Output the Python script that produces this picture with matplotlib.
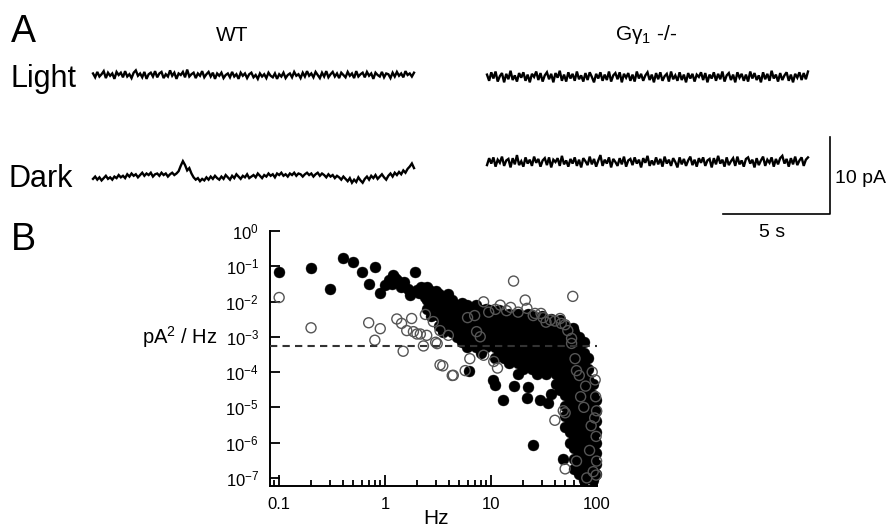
import numpy as np
import matplotlib
matplotlib.use("Agg")
import matplotlib.pyplot as plt
from matplotlib.ticker import LogLocator, NullFormatter, FixedLocator

plt.rcParams['font.family'] = ['Liberation Sans', 'DejaVu Sans']
plt.rcParams['mathtext.fontset'] = 'custom'
plt.rcParams['mathtext.rm'] = 'Liberation Sans'
plt.rcParams['mathtext.it'] = 'Liberation Sans:italic'
plt.rcParams['mathtext.bf'] = 'Liberation Sans:bold'

# ---- panel A: current traces (pA), one sample every 0.1 s ----
kDT = 0.1
wt_light = [
    0.2, -0.3, 0.4, -0.2, 0.1, 0.5, -0.4, 0.3, -0.1, 0.2, -0.5, 0.4, 0.0, 0.3, -0.3, 0.5, -0.2, 0.1, -0.4, 0.3,
    0.6, -0.1, 0.2, -0.3, 0.4, -0.5, 0.1, 0.3, -0.2, 0.5, -0.3, 0.2, 0.4, -0.4, 0.1, -0.2, 0.6, -0.1, 0.3, -0.5,
    0.2, 0.0, 0.4, -0.3, 0.7, -0.2, 0.1, 0.3, -0.4, 0.2, -0.1, 0.5, -0.3, 0.1, 0.4, -0.2, 0.3, -0.5, 0.2, -0.1,
    0.3, -0.4, 0.0, 0.2, -0.3, 0.4, -0.2, 0.1, -0.5, 0.3, -0.1, 0.2, -0.4, 0.1, 0.3, -0.3, 0.0, -0.5, 0.2, -0.2,
    0.1, -0.4, 0.3, -0.1, -0.3, 0.2, -0.5, 0.1, -0.2, 0.3, -0.4, 0.0, 0.2, -0.3, 0.4, -0.1, 0.1, -0.4, 0.3, -0.2,
    0.5, -0.1, 0.2, -0.3, 0.4, 0.0, -0.4, 0.3, -0.2, 0.5, -0.3, 0.1, 0.4, -0.2, 0.2, -0.4, 0.3, 0.0, -0.3, 0.4,
    -0.1, 0.2, -0.4, 0.5, -0.2, 0.1, 0.3, -0.3, 0.4, -0.1, 0.2, -0.5, 0.3, 0.0, -0.2, 0.4, -0.3, 0.2, 0.1, -0.4,
    0.3, -0.2, 0.4, -0.1, 0.2, -0.3, 0.5, 0.0, 0.2, -0.2, 0.3]
wt_dark = [
    -0.5, -0.2, -0.6, -0.3, -0.7, -0.4, -0.1, -0.5, -0.3, -0.6, -0.2, -0.4, 0.0, -0.3, -0.1, -0.4, 0.1, -0.2, 0.2, -0.1,
    0.1, -0.3, 0.0, 0.3, -0.1, 0.2, 0.0, 0.3, -0.2, 0.1, 0.2, -0.1, 0.3, 0.0, 0.2, -0.2, 0.1, 0.3, 0.0, 0.2,
    0.5, 1.2, 1.8, 1.3, 0.6, 0.9, 0.2, -0.3, -0.6, -0.4, -0.8, -0.5, -0.7, -0.3, -0.6, -0.2, -0.5, -0.1, -0.4, -0.6,
    -0.2, -0.5, 0.0, -0.3, -0.6, -0.1, -0.4, 0.1, -0.2, -0.5, -0.1, -0.3, 0.1, -0.4, -0.2, 0.0, -0.3, 0.2, -0.1, -0.4,
    0.0, -0.2, 0.2, -0.1, 0.1, -0.3, 0.2, 0.0, 0.3, -0.1, 0.1, -0.2, 0.2, 0.0, 0.3, -0.1, 0.2, 0.1, -0.2, 0.1,
    0.3, 0.0, 0.2, -0.2, 0.1, 0.3, -0.1, 0.2, 0.0, -0.3, 0.1, -0.2, 0.0, -0.4, -0.1, -0.3, -0.6, -0.2, -0.5, -0.8,
    -0.4, -1.0, -0.6, -0.9, -0.3, -0.7, -1.0, -0.5, -0.2, -0.6, -0.1, -0.4, 0.0, -0.5, -0.2, 0.1, -0.3, -0.6, -0.1, 0.2,
    -0.2, 0.3, 0.0, 0.4, 0.1, 0.6, 0.3, 0.8, 1.1, 1.5, 0.9]
ko_light = [
    0.3, -0.5, 0.6, -0.2, 0.7, -0.6, 0.1, 0.5, -0.7, 0.4, -0.3, 0.8, -0.4, 0.2, -0.6, 0.5, -0.1, 0.6, -0.5, 0.3,
    -0.7, 0.4, 0.0, 0.7, -0.4, 0.5, -0.6, 0.2, 0.6, -0.3, 0.4, -0.7, 0.5, -0.1, 0.8, -0.5, 0.3, -0.6, 0.6, -0.2,
    0.4, -0.5, 0.7, -0.3, 0.2, -0.6, 0.5, -0.4, 0.6, 0.0, -0.7, 0.4, -0.2, 0.6, -0.5, 0.3, -0.4, 0.7, -0.6, 0.2,
    0.5, -0.3, 0.6, -0.7, 0.4, -0.1, 0.5, -0.5, 0.3, -0.6, 0.7, -0.2, 0.4, -0.5, 0.2, 0.6, -0.4, 0.3, -0.7, 0.5,
    -0.3, 0.6, -0.5, 0.1, 0.4, -0.6, 0.7, -0.3, 0.2, -0.5, 0.6, -0.4, 0.3, -0.7, 0.5, -0.2, 0.4, -0.6, 0.3, 0.0,
    0.6, -0.4, 0.5, -0.7, 0.3, -0.2, 0.6, -0.5, 0.4, -0.3, 0.7, -0.6, 0.2, 0.5, -0.4, 0.3, -0.7, 0.6, -0.1, 0.4,
    -0.5, 0.3, -0.6, 0.7, -0.2, 0.5, -0.4, 0.2, -0.7, 0.6, -0.3, 0.4, -0.5, 0.8, -0.2, 0.3, -0.6, 0.5, -0.4, 0.2,
    0.6, -0.5, 0.3, -0.7, 0.4, -0.1, 0.6, -0.4, 0.5, -0.3, 0.7]
ko_dark = [
    -0.4, 0.5, -0.2, 0.6, -0.6, 0.3, -0.1, 0.7, -0.5, 0.2, 0.4, -0.7, 0.5, -0.3, 0.9, -0.4, 0.1, -0.6, 0.6, -0.2,
    0.3, -0.5, 0.7, -0.1, 0.4, -0.6, 0.2, 0.5, -0.4, 0.6, -0.7, 0.3, 0.0, 0.5, -0.5, 0.8, -0.3, 0.2, -0.6, 0.4,
    -0.2, 0.6, -0.5, 0.3, -0.7, 0.5, 0.1, -0.4, 0.7, -0.3, 0.4, -0.6, 0.2, 0.9, -0.5, 0.3, -0.2, 0.6, -0.7, 0.4,
    0.0, -0.5, 0.5, -0.3, 0.7, -0.6, 0.2, 0.4, -0.4, 0.6, -0.2, 0.3, -0.7, 0.5, -0.1, 0.8, -0.5, 0.2, -0.4, 0.6,
    -0.3, 0.4, -0.6, 0.7, -0.2, 0.3, -0.5, 0.5, 0.0, -0.7, 0.6, -0.3, 0.4, -0.5, 0.2, 0.7, -0.4, 0.3, -0.6, 0.5,
    -0.1, 0.6, -0.5, 0.2, 0.4, -0.7, 0.5, -0.3, 0.8, -0.2, 0.3, -0.6, 0.6, -0.4, 0.1, 0.5, -0.5, 0.7, -0.3, 0.2,
    -0.6, 0.4, 0.6, -0.2, 0.3, -0.7, 0.5, -0.4, 0.2, 0.7, -0.5, 0.3, -0.1, 0.6, -0.6, 0.4, -0.3, 0.5, 0.8, -0.2,
    0.4, -0.6, 0.5, -0.3, 0.7, -0.4, 0.2, 0.6, -0.5, 0.3, 0.6]

# ---- panel B: power spectra (Hz, pA^2/Hz) ----
# WT dark, filled circles
wt_points = [
    (0.1, 7e-2), (0.2, 9e-2), (0.3, 2.2e-2), (0.4, 1.7e-1), (0.5, 1.3e-1), (0.6, 7e-2), (0.7, 3.1e-2),
    (0.8, 9.5e-2), (0.9, 1.7e-2), (1.0, 2.9e-2), (1.1, 4e-2), (1.15, 3.2e-2), (1.2, 5.6e-2), (1.25, 4.6e-2),
    (1.3, 4e-2), (1.4, 2.6e-2), (1.45, 3e-2), (1.5, 3.5e-2), (1.65, 2.2e-2), (1.7, 1.5e-2), (1.75, 1.9e-2),
    (1.9, 7e-2), (2.0, 2.1e-2), (2.1, 1.8e-2), (2.2, 2.6e-2), (2.3, 1.7e-2), (2.4, 1.35e-2), (2.5, 1.1e-2),
    (2.6, 2.1e-2), (2.7, 1.6e-2), (2.8, 1.35e-2), (2.9, 1.1e-2), (3.0, 7e-3),
    (2.5, 2.5e-2), (2.5, 6.3e-3), (2.7, 8e-3), (2.7, 4e-3), (3.0, 2e-2),
    (3.2, 1.6e-2), (3.2, 7.9e-3), (3.2, 4e-3), (3.2, 2e-3),
    (3.5, 1.1e-2), (3.5, 5.6e-3), (3.5, 2.8e-3), (3.5, 1.4e-3),
    (3.9, 1.6e-2), (3.9, 7.9e-3), (3.9, 4e-3), (3.9, 2e-3),
    (4.3, 1.1e-2), (4.3, 5.6e-3), (4.3, 2.8e-3), (4.3, 1.4e-3),
    (4.8, 7.9e-3), (4.8, 4e-3), (4.8, 2e-3), (4.8, 1e-3),
    (5.3, 8.9e-3), (5.3, 5.6e-3), (5.3, 2.8e-3), (5.3, 1.4e-3), (5.3, 7e-4),
    (5.9, 7.9e-3), (5.9, 4e-3), (5.9, 2e-3), (5.9, 1e-3), (5.9, 5e-4),
    (6.5, 5.6e-3), (6.5, 2.8e-3), (6.5, 1.4e-3), (6.5, 7e-4),
    (7.2, 7.9e-3), (7.2, 4e-3), (7.2, 2e-3), (7.2, 1e-3), (7.2, 5e-4),
    (8.0, 5.6e-3), (8.0, 2.8e-3), (8.0, 1.4e-3), (8.0, 7e-4), (8.0, 3.5e-4),
    (8.9, 6.3e-3), (8.9, 4e-3), (8.9, 2e-3), (8.9, 1e-3), (8.9, 5e-4),
    (9.8, 5.6e-3), (9.8, 2.8e-3), (9.8, 1.4e-3), (9.8, 7e-4),
    (10.9, 4e-3), (10.9, 2e-3), (10.9, 1e-3), (10.9, 5e-4), (10.9, 2.5e-4),
    (12.0, 5.6e-3), (12.0, 2.8e-3), (12.0, 1.4e-3), (12.0, 7e-4), (12.0, 3.5e-4),
    (13.3, 4e-3), (13.3, 2e-3), (13.3, 1e-3), (13.3, 5e-4), (13.3, 2.5e-4),
    (14.7, 4.5e-3), (14.7, 2.8e-3), (14.7, 1.4e-3), (14.7, 7e-4), (14.7, 3.5e-4), (14.7, 1.8e-4),
    (16.3, 4e-3), (16.3, 2e-3), (16.3, 1e-3), (16.3, 5e-4), (16.3, 2.5e-4),
    (18.0, 4.5e-3), (18.0, 2.8e-3), (18.0, 1.4e-3), (18.0, 7e-4), (18.0, 3.5e-4), (18.0, 1.8e-4), (18.0, 8.9e-5),
    (20.0, 4e-3), (20.0, 2e-3), (20.0, 1e-3), (20.0, 5e-4), (20.0, 2.5e-4), (20.0, 1.26e-4),
    (22.1, 4.5e-3), (22.1, 2.8e-3), (22.1, 1.4e-3), (22.1, 7e-4), (22.1, 3.5e-4), (22.1, 1.8e-4),
    (24.5, 4e-3), (24.5, 2e-3), (24.5, 1e-3), (24.5, 5e-4), (24.5, 2.5e-4), (24.5, 1.26e-4),
    (27.1, 2.8e-3), (27.1, 1.4e-3), (27.1, 7e-4), (27.1, 3.5e-4), (27.1, 1.8e-4), (27.1, 8.9e-5),
    (30.0, 4e-3), (30.0, 2e-3), (30.0, 1e-3), (30.0, 5e-4), (30.0, 2.5e-4), (30.0, 1.26e-4),
    (33.2, 2.8e-3), (33.2, 1.4e-3), (33.2, 7e-4), (33.2, 3.5e-4), (33.2, 1.8e-4), (33.2, 8.9e-5),
    (36.8, 3.2e-3), (36.8, 2e-3), (36.8, 1e-3), (36.8, 5e-4), (36.8, 2.5e-4), (36.8, 1.26e-4),
    (40.7, 2.8e-3), (40.7, 1.4e-3), (40.7, 7e-4), (40.7, 3.5e-4), (40.7, 1.8e-4), (40.7, 8.9e-5), (40.7, 4.5e-5),
    (45.0, 3e-3), (45.0, 2e-3), (45.0, 1e-3), (45.0, 5e-4), (45.0, 2.5e-4), (45.0, 1.26e-4), (45.0, 6.3e-5),
    (45.0, 3.2e-5),
    (49.8, 2e-3), (49.8, 1.4e-3), (49.8, 7e-4), (49.8, 3.5e-4), (49.8, 1.8e-4), (49.8, 8.9e-5), (49.8, 4.5e-5),
    (49.8, 2.2e-5), (49.8, 1.1e-5), (49.8, 5.6e-6), (49.8, 2.8e-6),
    (55.1, 1.6e-3), (55.1, 1e-3), (55.1, 5e-4), (55.1, 2.5e-4), (55.1, 1.26e-4), (55.1, 6.3e-5), (55.1, 3.2e-5),
    (55.1, 1.6e-5), (55.1, 7.9e-6), (55.1, 4e-6), (55.1, 2e-6), (55.1, 1e-6),
    (61.0, 1.4e-3), (61.0, 7e-4), (61.0, 3.5e-4), (61.0, 1.8e-4), (61.0, 8.9e-5), (61.0, 4.5e-5), (61.0, 2.2e-5),
    (61.0, 1.1e-5), (61.0, 5.6e-6), (61.0, 2.8e-6), (61.0, 1.4e-6), (61.0, 7e-7), (61.0, 3.5e-7), (61.0, 1.8e-7),
    (67.5, 1e-3), (67.5, 5e-4), (67.5, 2.5e-4), (67.5, 1.26e-4), (67.5, 6.3e-5), (67.5, 3.2e-5), (67.5, 1.6e-5),
    (67.5, 7.9e-6), (67.5, 4e-6), (67.5, 2e-6), (67.5, 1e-6), (67.5, 5e-7), (67.5, 2.5e-7), (67.5, 1.26e-7),
    (74.7, 7e-4), (74.7, 3.5e-4), (74.7, 1.8e-4), (74.7, 8.9e-5), (74.7, 4.5e-5), (74.7, 2.2e-5), (74.7, 1.1e-5),
    (74.7, 5.6e-6), (74.7, 2.8e-6), (74.7, 1.4e-6), (74.7, 7e-7), (74.7, 3.5e-7), (74.7, 1.8e-7), (74.7, 8.9e-8),
    (82.6, 2.5e-4), (82.6, 1.26e-4), (82.6, 6.3e-5), (82.6, 3.2e-5), (82.6, 1.6e-5), (82.6, 7.9e-6), (82.6, 4e-6),
    (82.6, 2e-6), (82.6, 1e-6), (82.6, 5e-7), (82.6, 2.5e-7), (82.6, 1.26e-7),
    (91.4, 4.5e-5), (91.4, 2.2e-5), (91.4, 1.1e-5), (91.4, 5.6e-6), (91.4, 2.8e-6), (91.4, 1.4e-6), (91.4, 7e-7),
    (91.4, 3.5e-7), (91.4, 1.8e-7), (91.4, 8.9e-8),
    (97.0, 1.6e-5), (97.0, 7.9e-6), (97.0, 4e-6), (97.0, 2e-6), (97.0, 1e-6), (97.0, 5e-7), (97.0, 2.5e-7),
    (97.0, 1.26e-7),
    (6.2, 1.1e-4), (10.5, 5.9e-5), (11.0, 4.2e-5), (13.0, 1.6e-5), (16.5, 4e-5), (21.6, 1.8e-5),
    (22.5, 3.8e-5), (28.9, 1.6e-5), (34.8, 1.3e-5), (37.0, 2.4e-5), (25.0, 8.3e-7), (48.0, 3.5e-7),
    (59.0, 1.8e-3),
]

# Ggamma1 -/- dark, open circles
ko_points = [
    (0.1, 1.3e-2), (0.2, 1.8e-3), (0.7, 2.5e-3), (0.8, 8e-4), (0.9, 1.7e-3), (1.29, 3.2e-3), (1.43, 2.4e-3),
    (1.48, 3.9e-4), (1.6, 1.5e-3), (1.78, 3.3e-3), (1.85, 1.4e-3), (2.0, 1.2e-3), (2.15, 1.2e-3),
    (2.3, 5.5e-4), (2.4, 4.3e-3), (2.47, 1.1e-3), (2.85, 2.7e-3), (3.0, 7e-4), (3.1, 6.4e-4), (3.3, 1.6e-4),
    (3.5, 1.5e-4), (3.95, 1.1e-3), (3.3, 1.5e-3), (4.3, 8e-5), (4.4, 8.1e-5), (5.7, 1.1e-4), (6.3, 2.4e-4),
    (8.5, 3e-4), (10.6, 2e-4), (11.5, 1.3e-4), (7.3, 1.4e-3), (7.9, 1e-3), (6.0, 3.5e-3), (7.0, 4e-3),
    (8.5, 9.8e-3), (9.5, 5e-3), (11.0, 6e-3), (12.2, 7.9e-3), (14.0, 5.5e-3), (15.3, 6.8e-3), (16.3, 3.8e-2),
    (18.0, 5e-3), (21.0, 1.1e-2), (21.8, 6.4e-3), (25.0, 4e-3), (26.0, 4.6e-3), (29.6, 4.6e-3), (31.0, 3.5e-3),
    (33.0, 2.6e-3), (36.2, 3e-3), (40.0, 2.8e-3), (44.8, 3.3e-3), (46.0, 2.4e-3), (50.0, 2.2e-3), (53.0, 1.5e-3),
    (59.0, 1.4e-2), (57.5, 9e-4), (57.5, 6.5e-4), (62.0, 2.4e-4), (64.0, 1.1e-4),
    (40.0, 4.3e-6), (48.0, 8e-6), (50.0, 7e-6), (50.0, 1.8e-7), (64.0, 3e-7), (75.0, 1e-5), (80.0, 1e-7),
    (70.0, 2e-5), (88.0, 3e-6), (95.0, 5e-6), (98.0, 1.5e-6), (99.0, 3e-7), (92.0, 1.5e-7), (85.0, 6e-7),
    (78.0, 4e-5), (68.0, 8e-5), (97.0, 2e-5), (90.0, 1e-4), (96.0, 6e-5), (99.0, 8e-6), (98.0, 1.2e-7),
]

kNOISE_LEVEL = 5.4e-4   # dashed line, pA^2/Hz

fig = plt.figure(figsize=(8.87, 5.27), dpi=100)

# ---------------- panel A ----------------
ax_a = fig.add_axes([0.0928, 0.5647, 0.8565, 0.3507])
ax_a.set_xlim(-0.5, 35)
ax_a.set_ylim(-2, 22)
ax_a.axis("off")

t = np.arange(len(wt_light)) * kDT
ko_start = 18.41
trace_kw = dict(color="black", lw=1.7, solid_joinstyle="miter")
ax_a.plot(t, np.array(wt_light) + 18.05, **trace_kw)
ax_a.plot(t, np.array(wt_dark) + 5.06, **trace_kw)
ax_a.plot(t + ko_start, np.array(ko_light) + 17.8, **trace_kw)
ax_a.plot(t + ko_start, np.array(ko_dark) + 6.75, **trace_kw)
# scale bar: 5 s x 10 pA
ax_a.plot([29.44, 34.44, 34.44], [0, 0, 10], color="black", lw=1.2)

def ftext(x, y, s, **kw):
    # x, y in pixels from the top-left corner
    fig.text(x / 887.0, 1 - y / 527.0, s, **kw)

ftext(11, 42, "A", fontsize=27)
ftext(232, 41, "WT", fontsize=15, ha="center")
ftext(646, 40, "G\u03b3$_1$ -/-", fontsize=15, ha="center")
ftext(11, 87, "Light", fontsize=22)
ftext(9, 187, "Dark", fontsize=22)
ftext(835, 183, "10 pA", fontsize=14)
ftext(772, 237, "5 s", fontsize=14, ha="center")
ftext(11, 250, "B", fontsize=27)
ftext(218, 344, "pA$^2$ / Hz", fontsize=14.5, ha="right")
ftext(436, 524, "Hz", fontsize=15, ha="center")

# ---------------- panel B ----------------
ax_b = fig.add_axes([0.3044, 0.0778, 0.3687, 0.4839])
ax_b.set_xscale("log")
ax_b.set_yscale("log")
ax_b.set_xlim(0.082, 100)
ax_b.set_ylim(10 ** -7.23, 1)

ko_f, ko_p = np.array(ko_points).T
wt_f, wt_p = np.array(wt_points).T
ax_b.scatter(wt_f, wt_p, s=62, color="black", edgecolors="black", linewidths=0.3, zorder=2, clip_on=False)
ax_b.scatter(ko_f, ko_p, s=52, facecolors="none", edgecolors="#555555", linewidths=1.0, zorder=3, clip_on=False)
ax_b.axhline(kNOISE_LEVEL, color="#333333", lw=1.5, ls=(0, (3.5, 2.5)), zorder=4)

for side in ["top", "right"]:
    ax_b.spines[side].set_visible(False)
for side in ["left", "bottom"]:
    ax_b.spines[side].set_linewidth(1.4)

ax_b.yaxis.set_major_locator(FixedLocator([10.0 ** -k for k in range(8)]))
ax_b.yaxis.set_minor_locator(FixedLocator([]))
ax_b.set_yticklabels(["$10^{%d}$" % (-k) if k else "$10^{0}$" for k in range(8)])
ax_b.xaxis.set_major_locator(FixedLocator([0.1, 1, 10, 100]))
ax_b.xaxis.set_minor_locator(LogLocator(base=10, subs=np.arange(2, 10) * 0.1 * 10, numticks=20))
ax_b.xaxis.set_minor_formatter(NullFormatter())
ax_b.set_xticklabels(["0.1", "1", "10", "100"])

ax_b.tick_params(axis="y", which="major", direction="in", length=7, width=1.3, labelsize=12, pad=8)
ax_b.tick_params(axis="x", which="major", direction="in", length=8, width=1.3, labelsize=12, pad=8)
ax_b.tick_params(axis="x", which="minor", direction="in", length=4.5, width=1.3)

fig.savefig("out.png", dpi=100)
